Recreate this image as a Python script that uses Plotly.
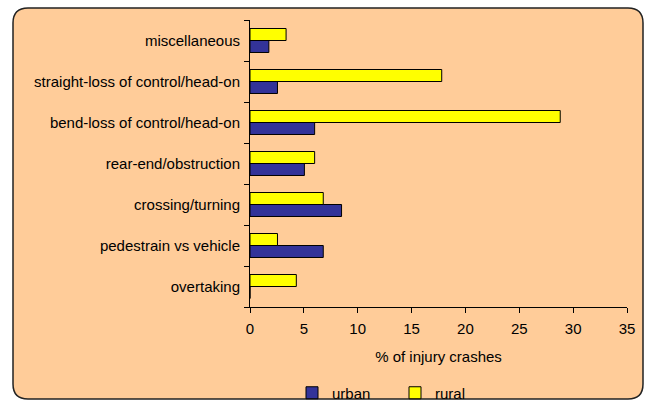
import plotly.graph_objects as go

categories = ["overtaking", "pedestrain vs vehicle", "crossing/turning",
              "rear-end/obstruction", "bend-loss of control/head-on",
              "straight-loss of control/head-on", "miscellaneous"]
urban = [0, 6.8, 8.5, 5.05, 6.0, 2.55, 1.75]
rural = [4.3, 2.55, 6.8, 6.0, 28.8, 17.8, 3.35]
x_ticks = [0, 5, 10, 15, 20, 25, 30, 35]

W, H = 649, 401
L, R, T, B = 250, 627, 20, 307  # plot area pixels

PEACH = "#FFCC99"
FONT = "Liberation Sans, Arial, sans-serif"

fig = go.Figure()
fig.add_trace(go.Bar(y=categories, x=urban, name="urban", orientation="h",
                     marker=dict(color="#333399", line=dict(color="#000000", width=1))))
fig.add_trace(go.Bar(y=categories, x=rural, name="rural", orientation="h",
                     marker=dict(color="#FFFF00", line=dict(color="#000000", width=1))))

# rounded chart-area border (decoration), pixel -> paper conversion
def px(xp):
    return (xp - L) / (R - L)

def py(yp):
    return (B - yp) / (B - T)

x0, x1, y0, y1 = px(13), px(643), py(399), py(8)
rx, ry = 15 / (R - L), 15 / (B - T)
path = (f"M {x0+rx},{y1} L {x1-rx},{y1} Q {x1},{y1} {x1},{y1-ry} "
        f"L {x1},{y0+ry} Q {x1},{y0} {x1-rx},{y0} L {x0+rx},{y0} "
        f"Q {x0},{y0} {x0},{y0+ry} L {x0},{y1-ry} Q {x0},{y1} {x0+rx},{y1} Z")
fig.add_shape(type="path", path=path, xref="paper", yref="paper",
              fillcolor=PEACH, line=dict(color="#222222", width=1.5), layer="below")

fig.update_layout(
    width=W, height=H,
    margin=dict(l=L, r=W - R, t=T, b=H - B, pad=0, autoexpand=False),
    paper_bgcolor="white",
    plot_bgcolor="rgba(0,0,0,0)",
    barmode="group", bargap=0.415, bargroupgap=0,
    font=dict(family=FONT, size=15, color="#000000"),
    showlegend=True,
    legend=dict(orientation="h", x=px(292), y=py(393), xanchor="left", yanchor="middle",
                bgcolor="rgba(0,0,0,0)", font=dict(size=15),
                entrywidth=58, entrywidthmode="pixels", itemwidth=30,
                traceorder="normal"),
    xaxis=dict(range=[0, 35], tickvals=x_ticks, showgrid=False, zeroline=False,
               showline=True, linecolor="#000000", linewidth=1,
               ticks="outside", ticklen=5, tickcolor="#000000",
               ticklabelstandoff=3,
               title=dict(text="% of injury crashes", standoff=15, font=dict(size=15)),
               automargin=False, fixedrange=True),
    yaxis=dict(type="category", categoryorder="array", categoryarray=categories,
               showgrid=False, zeroline=False, showline=True, linecolor="#000000",
               linewidth=1, ticks="outside", ticklen=5, tickcolor="#000000",
               tickson="boundaries", ticklabelstandoff=6, automargin=False,
               fixedrange=True),
)

fig.write_html("out.html", config={"displayModeBar": False, "staticPlot": True},
               post_script="document.body.style.margin='0px';document.body.style.overflow='hidden';")
